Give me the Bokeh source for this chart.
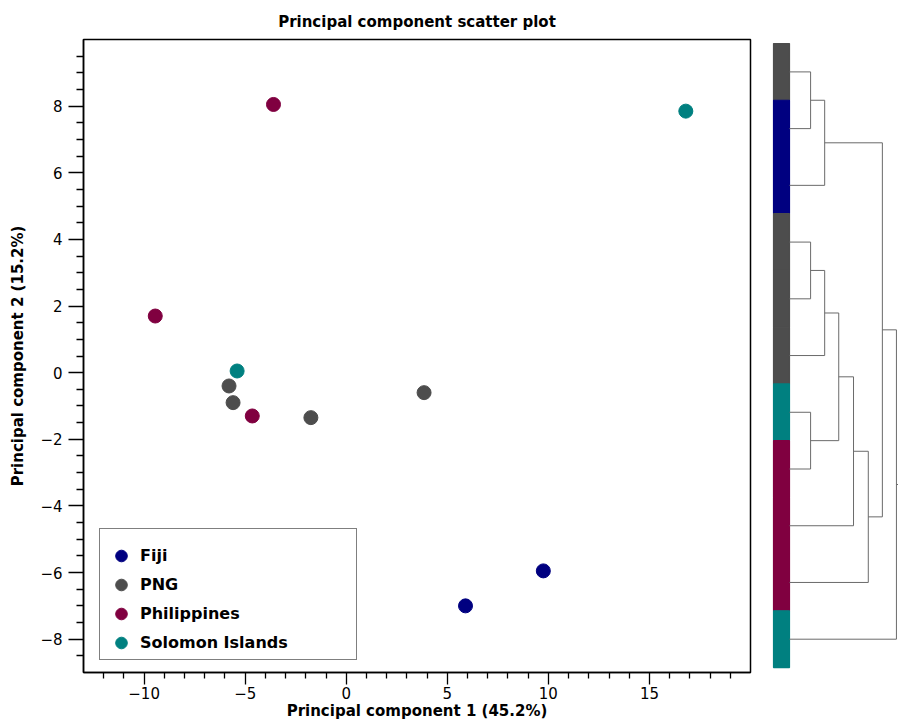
from bokeh.plotting import figure
from bokeh.models import Range1d, FixedTicker, Legend, LegendItem
from bokeh.layouts import row
from bokeh.embed import file_html
from bokeh.resources import INLINE

# ---------------- data ----------------
groups = ["Fiji", "PNG", "Philippines", "Solomon Islands"]
group_colors = ["#000080", "#4d4d4d", "#800040", "#008080"]

fiji_x = [9.75, 5.9]
fiji_y = [-5.95, -7.0]
png_x = [-5.8, -5.6, -1.75, 3.85]
png_y = [-0.4, -0.9, -1.35, -0.6]
phil_x = [-3.6, -9.45, -4.65]
phil_y = [8.05, 1.7, -1.3]
sol_x = [16.8, -5.4]
sol_y = [7.85, 0.05]

x_major_ticks = [-10, -5, 0, 5, 10, 15]
x_minor_ticks = [-12, -11, -9, -8, -7, -6, -4, -3, -2, -1, 1, 2, 3, 4,
                 6, 7, 8, 9, 11, 12, 13, 14, 16, 17, 18, 19]
y_major_ticks = [-8, -6, -4, -2, 0, 2, 4, 6, 8]
y_minor_ticks = [-8.5, -7.5, -7, -6.5, -5.5, -5, -4.5, -3.5, -3, -2.5,
                 -1.5, -1, -0.5, 0.5, 1, 1.5, 2.5, 3, 3.5, 4.5, 5, 5.5,
                 6.5, 7, 7.5, 8.5, 9, 9.5]

# dendrogram: leaf order (top to bottom) and linkage (leaves 0..10, nodes 11..)
leaf_groups = ["PNG", "Fiji", "Fiji", "PNG", "PNG", "PNG",
               "Solomon Islands", "Philippines", "Philippines", "Philippines",
               "Solomon Islands"]
merge_left = [0, 11, 3, 13, 6, 14, 16, 17, 12, 19]
merge_right = [1, 2, 4, 5, 7, 15, 8, 9, 18, 10]
merge_height = [1.5, 2.5, 1.5, 2.5, 1.5, 3.5, 4.55, 5.6, 6.6, 7.6]

FONT = "DejaVu Sans"
FIG_H = 722

# ---------------- scatter ----------------
p = figure(width=765, height=FIG_H,
           x_range=Range1d(-13, 20), y_range=Range1d(-9, 10),
           output_backend="svg", toolbar_location=None,
           min_border_left=83, min_border_right=15,
           min_border_top=39, min_border_bottom=50,
           title="Principal component scatter plot")
p.title.align = "center"
p.title.text_font = FONT
p.title.text_font_size = "15px"
p.title.text_font_style = "bold"
p.title.text_color = "black"
p.title.standoff = 17
p.xgrid.visible = False
p.ygrid.visible = False
p.outline_line_color = "black"
p.outline_line_width = 1.5
p.background_fill_color = "white"
p.border_fill_color = "white"

p.xaxis.ticker = FixedTicker(ticks=x_major_ticks, minor_ticks=x_minor_ticks)
p.yaxis.ticker = FixedTicker(ticks=y_major_ticks, minor_ticks=y_minor_ticks)

for ax in (p.xaxis[0], p.yaxis[0]):
    ax.axis_line_color = "black"
    ax.axis_line_width = 1.5
    ax.major_tick_line_color = "black"
    ax.major_tick_line_width = 1.3
    ax.minor_tick_line_color = "black"
    ax.minor_tick_line_width = 1.3
    ax.major_tick_in = 0
    ax.minor_tick_in = 0
    ax.major_label_text_font = FONT
    ax.major_label_text_font_size = "15px"
    ax.major_label_text_color = "black"
    ax.axis_label_text_font = FONT
    ax.axis_label_text_font_size = "15px"
    ax.axis_label_text_font_style = "bold"
    ax.axis_label_text_color = "black"

p.xaxis.axis_label = "Principal component 1 (45.2%)"
p.yaxis.axis_label = "Principal component 2 (15.2%)"
p.xaxis.major_tick_out = 12
p.xaxis.minor_tick_out = 6
p.xaxis.major_label_standoff = 2
p.xaxis.axis_label_standoff = 0
p.yaxis.major_tick_out = 15
p.yaxis.minor_tick_out = 7
p.yaxis.major_label_standoff = 6
p.yaxis.axis_label_standoff = 10

series = [(fiji_x, fiji_y), (png_x, png_y), (phil_x, phil_y), (sol_x, sol_y)]
items = []
for name, color, (xs, ys) in zip(groups, group_colors, series):
    r = p.scatter(xs, ys, size=14, fill_color=color, line_color=color)
    items.append(LegendItem(label=name, renderers=[r]))

legend = Legend(items=items, location=(16, 12),
                title=" ", title_text_font_size="9px", title_standoff=0,
                glyph_width=38, glyph_height=29, spacing=0, padding=2,
                label_standoff=0, label_width=214, label_height=20,
                label_text_font=FONT, label_text_font_size="16px",
                label_text_font_style="bold", label_text_color="black",
                border_line_color="black", border_line_width=1,
                background_fill_color="white", background_fill_alpha=1.0)
p.add_layout(legend)

# ---------------- dendrogram ----------------
d = figure(width=133, height=FIG_H,
           x_range=Range1d(-1.706, 7.747), y_range=Range1d(10.587, -0.571),
           output_backend="svg", toolbar_location=None,
           x_axis_location=None, y_axis_location=None,
           min_border_left=0, min_border_right=0,
           min_border_top=39, min_border_bottom=50)
d.xgrid.visible = False
d.ygrid.visible = False
d.outline_line_color = None
d.background_fill_color = "white"
d.border_fill_color = "white"

color_of = dict(zip(groups, group_colors))
n_leaves = len(leaf_groups)
leaf_idx = list(range(n_leaves))
d.quad(left=-1.137, right=0,
       top=[i - 0.5 for i in leaf_idx], bottom=[i + 0.5 for i in leaf_idx],
       fill_color=[color_of[g] for g in leaf_groups],
       line_color=[color_of[g] for g in leaf_groups], line_width=1.2)

ypos = [float(i) for i in leaf_idx]
hpos = [0.0] * n_leaves
x0s, x1s, y0s, y1s = [], [], [], []
for l, r, h in zip(merge_left, merge_right, merge_height):
    x0s.append(h); x1s.append(h); y0s.append(ypos[l]); y1s.append(ypos[r])
    x0s.append(hpos[l]); x1s.append(h); y0s.append(ypos[l]); y1s.append(ypos[l])
    x0s.append(hpos[r]); x1s.append(h); y0s.append(ypos[r]); y1s.append(ypos[r])
    ypos.append((ypos[l] + ypos[r]) / 2)
    hpos.append(h)
x0s.append(hpos[-1]); x1s.append(hpos[-1] + 0.6); y0s.append(ypos[-1]); y1s.append(ypos[-1])

d.segment(x0=x0s, y0=y0s, x1=x1s, y1=y1s, line_color="#6a6a6a", line_width=1)

layout = row(p, d)
open("out.html", "w").write(file_html(layout, INLINE))
